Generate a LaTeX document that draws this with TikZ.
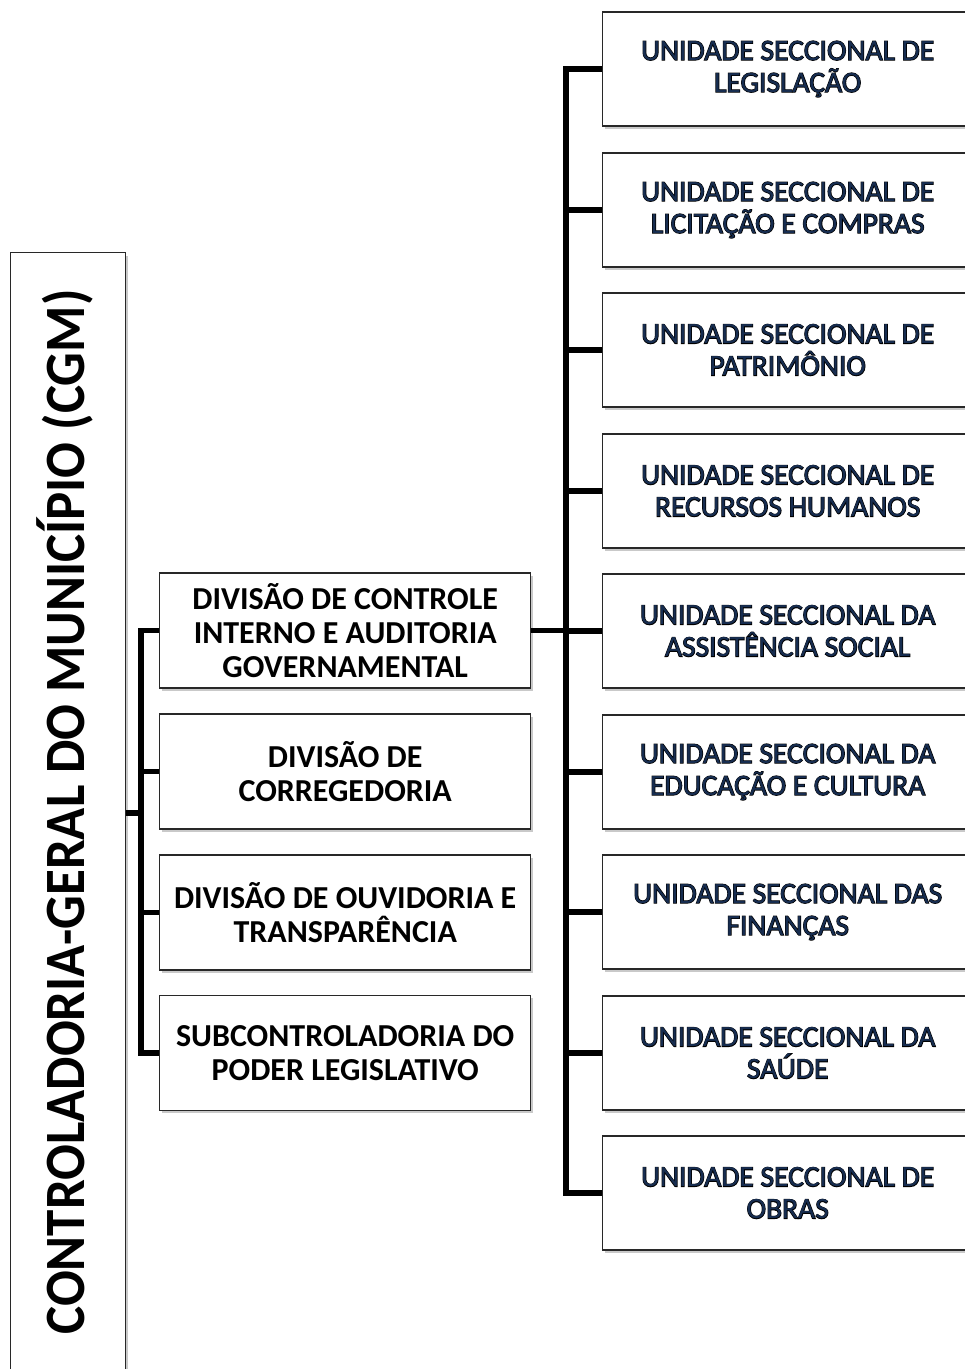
\documentclass[tikz,border=0pt]{standalone}
\usepackage{fontspec}
\usetikzlibrary{shadows}
\setmainfont{Carlito}
\newfontfamily\ufont{Carlito}
\newfontfamily\ufontO[RawFeature={embolden=4}]{Carlito}
\newfontfamily\mfont{Carlito}
\definecolor{navyt}{RGB}{23,45,80}
\definecolor{bordc}{RGB}{40,40,40}
\newcommand\olt[1]{\makebox[0pt]{\ufontO\color{black}#1}\makebox[0pt]{\ufont\color{navyt}#1}}
\tikzset{
  box/.style={draw=bordc, line width=1.4pt, fill=white, rectangle,
    drop shadow={shadow xshift=2pt, shadow yshift=-3pt, opacity=0.35, fill=black!60}},
  midbox/.style={box, minimum width=371pt, minimum height=115pt, anchor=west,
    align=center, font=\mfont\bfseries\fontsize{32}{34}\selectfont, inner sep=0pt},
  unitbox/.style={box, minimum width=370pt, minimum height=114pt, anchor=west,
    align=center, font=\ufont\fontsize{29.5}{32}\selectfont, inner sep=0pt},
  conn/.style={line width=5.5pt, draw=black}
}
\begin{document}
\begin{tikzpicture}[x=1pt,y=1pt]
\fill[white] (0,0) rectangle (965,1369);
\useasboundingbox (0,0) rectangle (965,1369);
% main box
\node[box, minimum width=115pt, minimum height=1160pt, anchor=north west, inner sep=0pt] (cgm) at (10,1117) {};
\node[rotate=90, anchor=base, inner sep=0pt, font=\bfseries\fontsize{57}{60}\selectfont] (cgmtext) at (84,557)
  {\resizebox{1045pt}{\height}{CONTROLADORIA-GERAL DO MUNICÍPIO (CGM)}};
% middle boxes
\node[midbox] (mid1) at (159,738.5) {DIVISÃO DE CONTROLE\\INTERNO E AUDITORIA\\GOVERNAMENTAL};
\node[midbox] (mid2) at (159,597.5) {DIVISÃO DE\\CORREGEDORIA};
\node[midbox] (mid3) at (159,456.5) {DIVISÃO DE OUVIDORIA E\\TRANSPARÊNCIA};
\node[midbox] (mid4) at (159,316) {SUBCONTROLADORIA DO\\PODER LEGISLATIVO};
% unit boxes
\node[unitbox] (r1) at (602,1300) {\olt{UNIDADE SECCIONAL DE}\\\olt{LEGISLAÇÃO}};
\node[unitbox] (r2) at (602,1159) {\olt{UNIDADE SECCIONAL DE}\\\olt{LICITAÇÃO E COMPRAS}};
\node[unitbox] (r3) at (602,1019) {\olt{UNIDADE SECCIONAL DE}\\\olt{PATRIMÔNIO}};
\node[unitbox] (r4) at (602,878) {\olt{UNIDADE SECCIONAL DE}\\\olt{RECURSOS HUMANOS}};
\node[unitbox] (r5) at (602,738) {\olt{UNIDADE SECCIONAL DA}\\\olt{ASSISTÊNCIA SOCIAL}};
\node[unitbox] (r6) at (602,597) {\olt{UNIDADE SECCIONAL DA}\\\olt{EDUCAÇÃO E CULTURA}};
\node[unitbox] (r7) at (602,457) {\olt{UNIDADE SECCIONAL DAS}\\\olt{FINANÇAS}};
\node[unitbox] (r8) at (602,316) {\olt{UNIDADE SECCIONAL DA}\\\olt{SAÚDE}};
\node[unitbox] (r9) at (602,176) {\olt{UNIDADE SECCIONAL DE}\\\olt{OBRAS}};
% trunks
\coordinate (lt) at (141,556);
\coordinate (rt) at (566,738);
\draw[conn] (cgm.east |- lt) -- (lt);
\draw[conn] (mid1.west) -- (mid1.west -| lt) -- (mid4.west -| lt) -- (mid4.west);
\draw[conn] (mid2.west) -- (mid2.west -| lt);
\draw[conn] (mid3.west) -- (mid3.west -| lt);
\draw[conn] (r1.west) -- (r1.west -| rt) -- (r9.west -| rt) -- (r9.west);
\foreach \n in {r2,r3,r4,r5,r6,r7,r8}{\draw[conn] (\n.west) -- (\n.west -| rt);}
\draw[conn] (mid1.east) -- (mid1.east -| rt);
\end{tikzpicture}
\end{document}
